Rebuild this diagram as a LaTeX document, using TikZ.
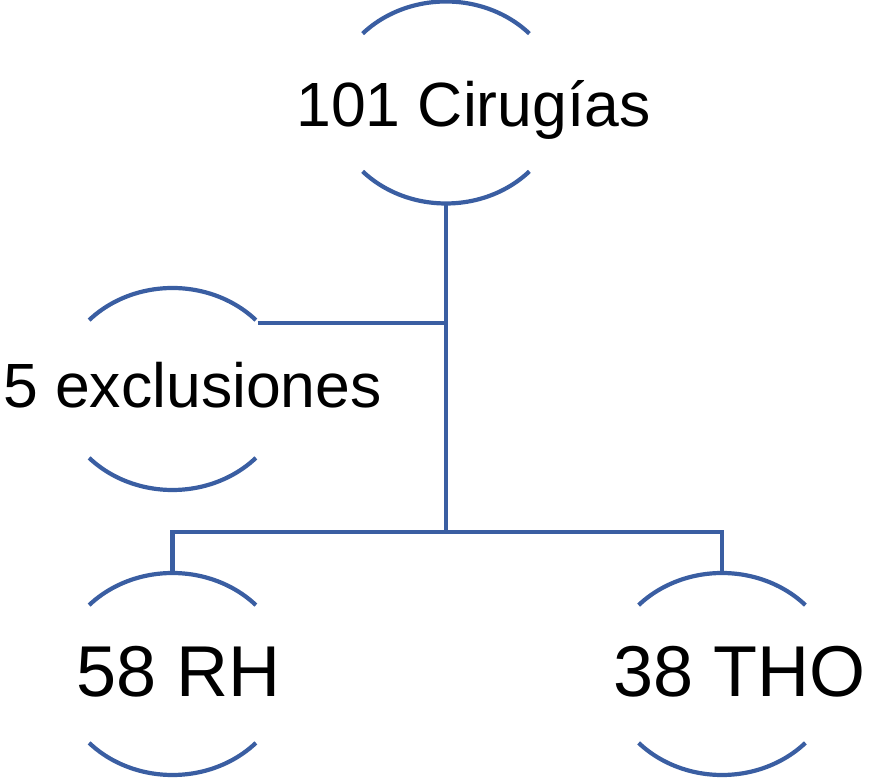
\documentclass[tikz,border=0pt]{standalone}
\usepackage{fontspec}
\setmainfont{Liberation Sans}
\usetikzlibrary{calc}
\definecolor{lineblue}{RGB}{58,94,162}
\begin{document}
\begin{tikzpicture}[x=1pt,y=1pt,
  conn/.style={draw=lineblue,line width=4.2pt},
  holder/.style={rectangle,draw=none,minimum width=228pt,minimum height=202pt,inner sep=0pt},
  lblA/.style={anchor=base,inner sep=0pt,font=\fontsize{62.5}{70}\selectfont},
  lblB/.style={anchor=base,inner sep=0pt,font=\fontsize{72}{80}\selectfont}]
\useasboundingbox (0,0) rectangle (869,778);
% circle holders
\node[holder] (top) at (446,675.5) {};
\node[holder] (exc) at (172.5,389) {};
\node[holder] (rh) at (172.5,104) {};
\node[holder] (tho) at (722,104) {};
% partial ellipse arcs
\foreach \n in {top,exc,rh,tho}{
  \draw[conn] ($(\n.center)+(43:114 and 101)$) arc[start angle=43,end angle=137,x radius=114,y radius=101];
  \draw[conn] ($(\n.center)+(223:114 and 101)$) arc[start angle=223,end angle=317,x radius=114,y radius=101];
}
% labels
\node[lblA] (ttop) at (473.5,651) {101 Cirugías};
\node[lblA] (texc) at (192.5,370) {5 exclusiones};
\node[lblB] (trh) at (179,81) {58 RH};
\node[lblB] (ttho) at (739.5,81) {38 THO};
% connectors
\coordinate (j1) at (446,455);
\coordinate (j2) at (446,246);
\coordinate (excR) at ($(exc.center)+(85,66)$);
\draw[conn] (top.south) -- (j2);
\draw[conn] (excR) -- (j1);
\draw[conn] (rh.north) |- (j2) -| (tho.north);
\end{tikzpicture}
\end{document}
